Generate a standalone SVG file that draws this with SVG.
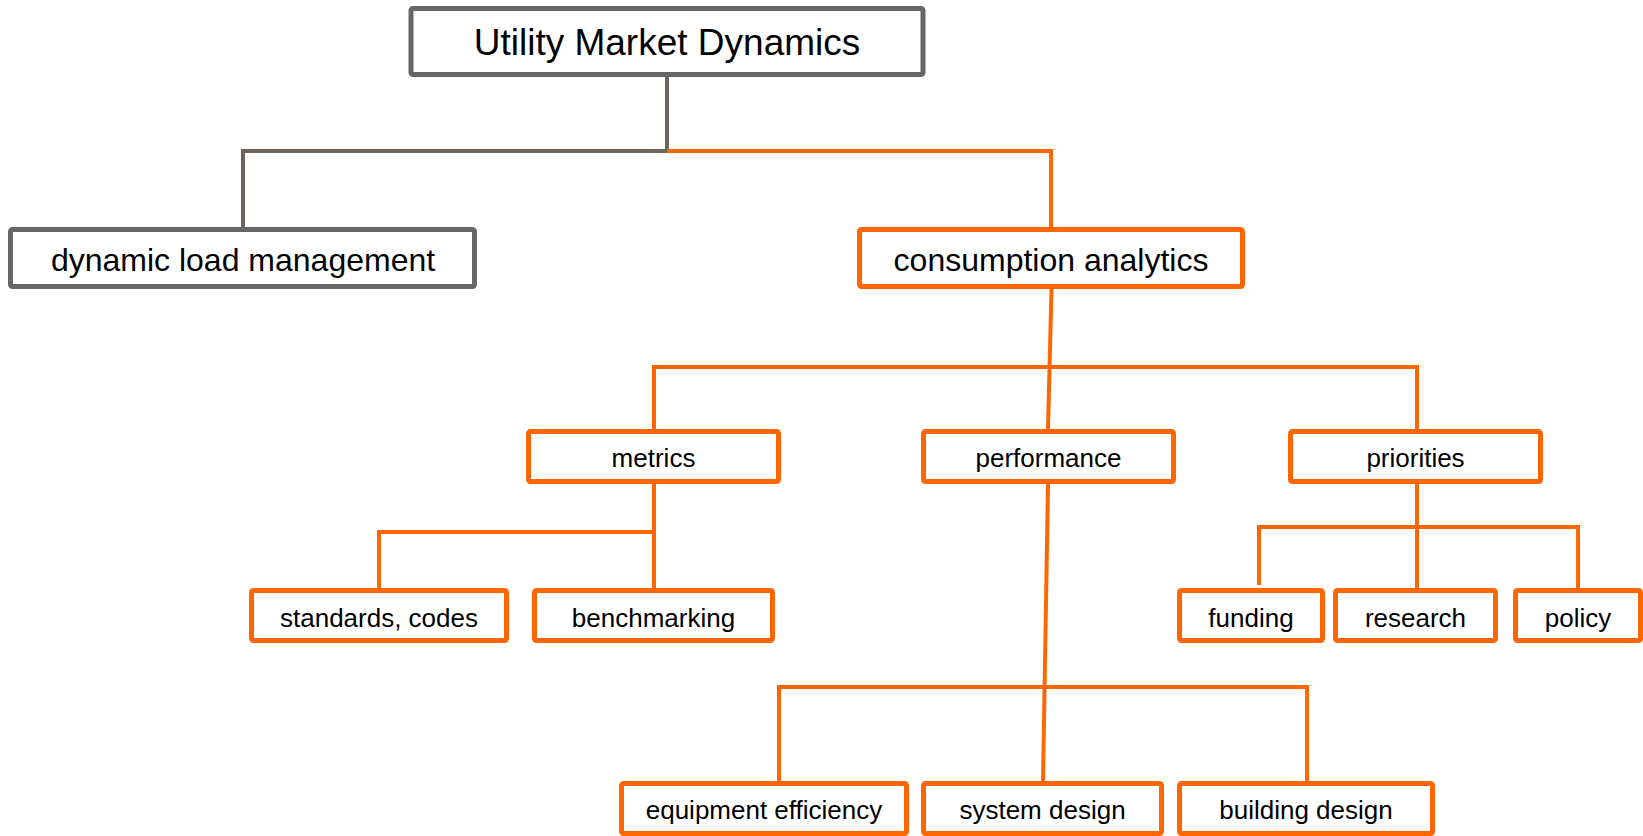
<svg xmlns="http://www.w3.org/2000/svg" width="1643" height="836" viewBox="0 0 1643 836">
<style>
.bg{fill:#ffffff}
.box{fill:#ffffff;stroke-width:5}
.g{stroke:#666666}
.o{stroke:#ff6600}
.t{font-family:"Liberation Sans",Arial,sans-serif;fill:#000000;text-anchor:middle}
.ln{fill:none;stroke-width:4;stroke-linejoin:miter}
.lg{stroke:#6b645f}
.lo{stroke:#ff6600}
</style>
<rect class="bg" x="0" y="0" width="1643" height="836"/>
<g id="connectors">
<path class="ln lg" d="M667,76 V151 H243 V227"/>
<path class="ln lo" d="M667,151 H1051 V227"/>
<path class="ln lo" d="M1051.5,289 L1048,429"/>
<path class="ln lo" d="M654,429 V367 H1417 V429"/>
<path class="ln lo" d="M654,484 V588"/>
<path class="ln lo" d="M654,532 H379 V588"/>
<path class="ln lo" d="M1417,484 V588"/>
<path class="ln lo" d="M1259,585 V527 H1578 V588"/>
<path class="ln lo" d="M1048,484 L1043,781"/>
<path class="ln lo" d="M779,781 V687 H1307 V781"/>
</g>
<g id="root">
<rect class="box g" x="411" y="8.5" width="512" height="66" rx="2"/>
<text class="t" x="667" y="55" font-size="37">Utility Market Dynamics</text>
</g>
<g id="dynamic-load-management">
<rect class="box g" x="10.5" y="229.5" width="464" height="57" rx="2"/>
<text class="t" x="243" y="271" font-size="32">dynamic load management</text>
</g>
<g id="consumption-analytics">
<rect class="box o" x="859.5" y="229.5" width="383" height="57" rx="2"/>
<text class="t" x="1051" y="271" font-size="32">consumption analytics</text>
</g>
<g id="metrics">
<rect class="box o" x="528.5" y="431.5" width="250" height="50" rx="2"/>
<text class="t" x="653.5" y="467" font-size="26">metrics</text>
</g>
<g id="performance">
<rect class="box o" x="923.5" y="431.5" width="250" height="50" rx="2"/>
<text class="t" x="1048.5" y="467" font-size="26">performance</text>
</g>
<g id="priorities">
<rect class="box o" x="1290.5" y="431.5" width="250" height="50" rx="2"/>
<text class="t" x="1415.5" y="467" font-size="26">priorities</text>
</g>
<g id="standards-codes">
<rect class="box o" x="251.5" y="590.5" width="255" height="50" rx="2"/>
<text class="t" x="379" y="627" font-size="26">standards, codes</text>
</g>
<g id="benchmarking">
<rect class="box o" x="534.5" y="590.5" width="238" height="50" rx="2"/>
<text class="t" x="653.5" y="627" font-size="26">benchmarking</text>
</g>
<g id="funding">
<rect class="box o" x="1179.5" y="590.5" width="143" height="50" rx="2"/>
<text class="t" x="1251" y="627" font-size="26">funding</text>
</g>
<g id="research">
<rect class="box o" x="1335.5" y="590.5" width="160" height="50" rx="2"/>
<text class="t" x="1415.5" y="627" font-size="26">research</text>
</g>
<g id="policy">
<rect class="box o" x="1515.5" y="590.5" width="125" height="50" rx="2"/>
<text class="t" x="1578" y="627" font-size="26">policy</text>
</g>
<g id="equipment-efficiency">
<rect class="box o" x="621.5" y="783.5" width="285" height="50" rx="2"/>
<text class="t" x="764" y="819" font-size="26">equipment efficiency</text>
</g>
<g id="system-design">
<rect class="box o" x="923.5" y="783.5" width="238" height="50" rx="2"/>
<text class="t" x="1042.5" y="819" font-size="26">system design</text>
</g>
<g id="building-design">
<rect class="box o" x="1179.5" y="783.5" width="253" height="50" rx="2"/>
<text class="t" x="1306" y="819" font-size="26">building design</text>
</g>
</svg>
